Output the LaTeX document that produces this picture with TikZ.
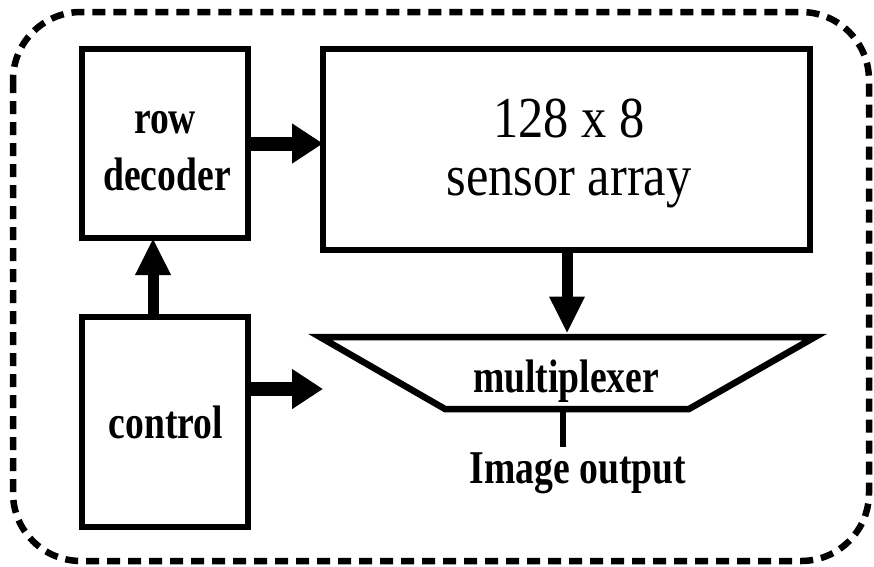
\documentclass[tikz,border=0pt]{standalone}
\usepackage{fontspec}
\setmainfont{Liberation Serif}
% narrow cuts of the serif face for the block labels
\newfontfamily\labelbold[FakeStretch=0.8]{Liberation Serif Bold}
\newfontfamily\labelbig[FakeStretch=0.87]{Liberation Serif}
\usetikzlibrary{arrows.meta,calc}

\tikzset{
  blockbox/.style={draw=black, line width=6.5pt, inner sep=0pt, outer sep=0pt},
  boldlabel/.style={font=\labelbold\fontsize{47}{47}\selectfont, anchor=base, inner sep=0pt},
  biglabel/.style={font=\labelbig\fontsize{58}{58}\selectfont, anchor=base, inner sep=0pt},
  harrow/.style={line width=14pt, -{Triangle[length=31pt,width=38pt]}},
  varrow/.style={line width=11pt, -{Triangle[length=37pt,width=33pt]}},
  frame/.style={line width=6.5pt, dash pattern=on 13pt off 8pt, rounded corners=68pt},
}

\begin{document}
\begin{tikzpicture}[x=1pt, y=-1pt]
  \useasboundingbox (0,0) rectangle (874,566);

  % outer dashed enclosure
  \draw[frame] (13,12) rectangle (869,561);

  % blocks
  \node[blockbox, minimum width=166pt, minimum height=189pt] (rowdec) at (165,143.5) {};
  \node[blockbox, minimum width=166pt, minimum height=210pt] (ctrl) at (165,422) {};
  \node[blockbox, minimum width=487pt, minimum height=201pt] (sensor) at (566.5,149.5) {};

  \node[boldlabel] (rowtxt) at (165,133) {row};
  \node[boldlabel] (dectxt) at (167,190) {decoder};
  \node[boldlabel] (ctrltxt) at (166,438) {control};
  \node[biglabel] (sizetxt) at (569,137) {128 x 8};
  \node[biglabel] (sensortxt) at (569,195) {sensor array};

  % multiplexer trapezoid
  \coordinate (mtl) at (320,337);
  \coordinate (mtr) at (815,337);
  \coordinate (mbr) at (689,409);
  \coordinate (mbl) at (445,409);
  \draw[line width=6.5pt, line join=miter] (mtl) -- (mtr) -- (mbr) -- (mbl) -- cycle;
  \node[boldlabel] (mux) at (566,392) {multiplexer};
  \coordinate (muxtop) at (567,333.5);
  \coordinate (muxbot) at (563,412);
  \coordinate (outend) at (563,447);
  \node[boldlabel] (outtxt) at (578,483) {Image output};

  % connectors
  \draw[harrow] (rowdec.east) -- (rowdec.east -| sensor.west);
  \coordinate (ctrlout) at (323,389);
  \draw[harrow] (ctrl.east |- ctrlout) -- (ctrlout);
  \draw[varrow] (ctrl.north -| 153,0) -- (rowdec.south -| 153,0);
  \draw[varrow] (sensor.south -| muxtop) -- (muxtop);
  \draw[line width=6pt] (muxbot) -- (outend);
\end{tikzpicture}
\end{document}
